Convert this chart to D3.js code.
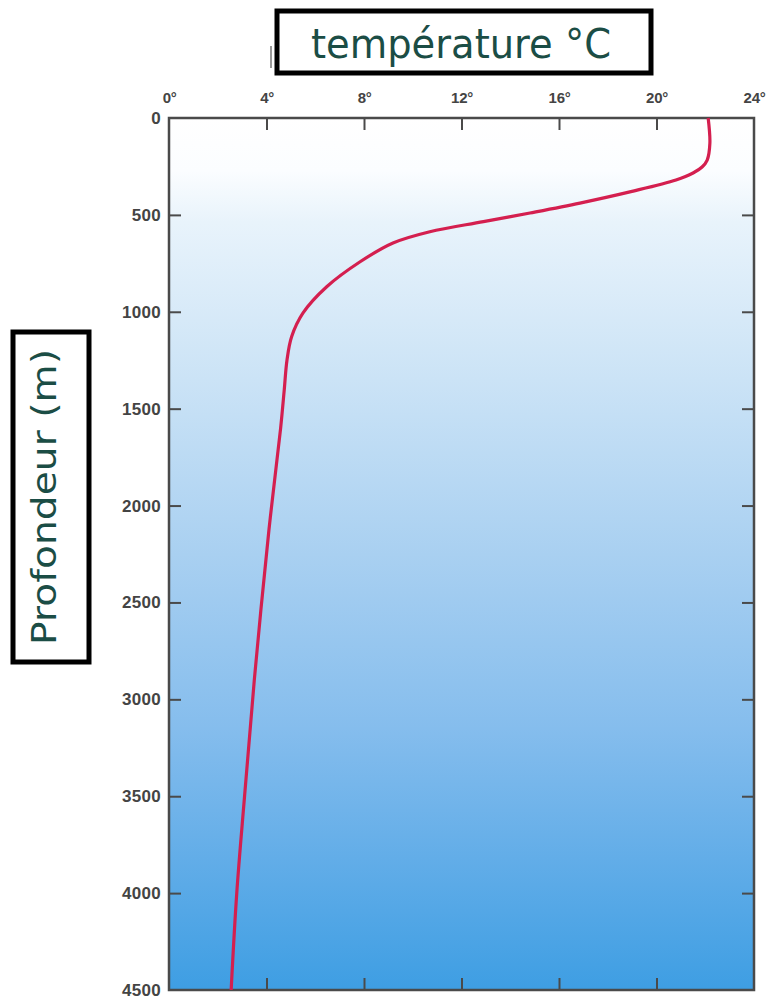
<!DOCTYPE html>
<html><head><meta charset="utf-8">
<script src="https://cdn.jsdelivr.net/npm/d3@7"></script>
<style>html,body{margin:0;padding:0;background:#fff;}svg{display:block;}</style>
</head><body>
<script>
// Data
const depths = [0, 130, 217, 253, 284, 320, 380, 439, 490, 535, 587, 645, 742, 871, 1006, 1129, 1250, 1400, 1600, 2126, 2900, 3500, 4000, 4500];
const temps  = [22.12, 22.19, 22.08, 21.87, 21.5, 20.8, 18.95, 16.86, 14.81, 12.9, 10.7, 9.19, 7.84, 6.47, 5.5, 5.03, 4.84, 4.73, 4.58, 4.1, 3.5, 3.1, 2.78, 2.55];
const tempTicks = [0, 4, 8, 12, 16, 20, 24];
const depthTicks = [0, 500, 1000, 1500, 2000, 2500, 3000, 3500, 4000, 4500];
const xTitle = "température °C";
const yTitle = "Profondeur (m)";

(function () {
const W = 772, H = 1001;
const m = {left: 169, right: 754, top: 118, bottom: 990};

const svg = d3.select("body").append("svg").attr("width", W).attr("height", H);

const x = d3.scaleLinear().domain([0, 24]).range([m.left, m.right]);
const y = d3.scaleLinear().domain([0, 4500]).range([m.top, m.bottom]);

const defs = svg.append("defs");
const grad = defs.append("linearGradient").attr("id", "sea").attr("x1", 0).attr("y1", 0).attr("x2", 0).attr("y2", 1);
[[0, "#ffffff"], [0.06, "#fbfdff"], [0.12, "#e8f3fb"], [0.3, "#cbe3f6"], [0.5, "#a9d0f1"], [0.7, "#85bded"], [0.85, "#62ade8"], [1, "#3e9ee3"]]
  .forEach(([o, c]) => grad.append("stop").attr("offset", o).attr("stop-color", c));

svg.append("rect").attr("x", m.left).attr("y", m.top)
  .attr("width", m.right - m.left).attr("height", m.bottom - m.top)
  .attr("fill", "url(#sea)");

const axisColor = "#4a4a4a";
const fmtT = d => d + "°";
const gTop = svg.append("g").attr("transform", `translate(0,${m.top})`)
  .call(d3.axisTop(x).tickValues(tempTicks).tickFormat(fmtT).tickSizeInner(-12).tickSizeOuter(0).tickPadding(15));
const gBottom = svg.append("g").attr("transform", `translate(0,${m.bottom})`)
  .call(d3.axisBottom(x).tickValues(tempTicks.slice(1, -1)).tickFormat("").tickSizeInner(-12).tickSizeOuter(0));
const gLeft = svg.append("g").attr("transform", `translate(${m.left},0)`)
  .call(d3.axisLeft(y).tickValues(depthTicks).tickFormat(d3.format("d")).tickSizeInner(-12).tickSizeOuter(0).tickPadding(8));
const gRight = svg.append("g").attr("transform", `translate(${m.right},0)`)
  .call(d3.axisRight(y).tickValues(depthTicks.slice(1, -1)).tickFormat("").tickSizeInner(-12).tickSizeOuter(0));

[gTop, gBottom, gLeft, gRight].forEach(g => {
  g.select(".domain").remove();
  g.selectAll(".tick line").attr("stroke", axisColor).attr("stroke-width", 2);
  g.selectAll(".tick text").attr("fill", "#444").attr("font-family", "Liberation Sans, Arial, sans-serif")
    .attr("font-weight", "bold");
});
gTop.selectAll(".tick text").attr("font-size", 15).attr("letter-spacing", "-0.3px");
gLeft.selectAll(".tick text").attr("font-size", 17).attr("letter-spacing", "0.3px");
gTop.selectAll(".tick").filter(d => d === 0 || d === 24).select("line").remove();
gLeft.selectAll(".tick").filter(d => d === 0 || d === 4500).select("line").remove();

svg.append("rect").attr("x", m.left).attr("y", m.top)
  .attr("width", m.right - m.left).attr("height", m.bottom - m.top)
  .attr("fill", "none").attr("stroke", axisColor).attr("stroke-width", 2.5);

const pts = depths.map((d, i) => [temps[i], d]);
svg.append("path").datum(pts)
  .attr("fill", "none").attr("stroke", "#d41f4f").attr("stroke-width", 3.2)
  .attr("d", d3.line().x(d => x(d[0])).y(d => y(d[1])).curve(d3.curveCatmullRom.alpha(0.5)));

svg.append("line").attr("x1", 271).attr("x2", 271).attr("y1", 46).attr("y2", 68).attr("stroke", "#999").attr("stroke-width", 2);

svg.append("rect").attr("x", 277).attr("y", 11).attr("width", 374).attr("height", 62)
  .attr("fill", "#fff").attr("stroke", "#000").attr("stroke-width", 5);
svg.append("text").attr("x", 461).attr("y", 58).attr("text-anchor", "middle")
  .attr("font-family", "DejaVu Sans, sans-serif").attr("font-size", 40).attr("fill", "#1b4d45")
  .attr("textLength", 300).attr("lengthAdjust", "spacingAndGlyphs")
  .text(xTitle);

svg.append("rect").attr("x", 13).attr("y", 332).attr("width", 76).attr("height", 330)
  .attr("fill", "#fff").attr("stroke", "#000").attr("stroke-width", 5);
svg.append("text").attr("transform", "translate(56,497) rotate(-90)").attr("text-anchor", "middle")
  .attr("font-family", "DejaVu Sans, sans-serif").attr("font-size", 33).attr("fill", "#1b4d45")
  .attr("textLength", 296).attr("lengthAdjust", "spacingAndGlyphs")
  .text(yTitle);
})();
</script>
</body></html>
